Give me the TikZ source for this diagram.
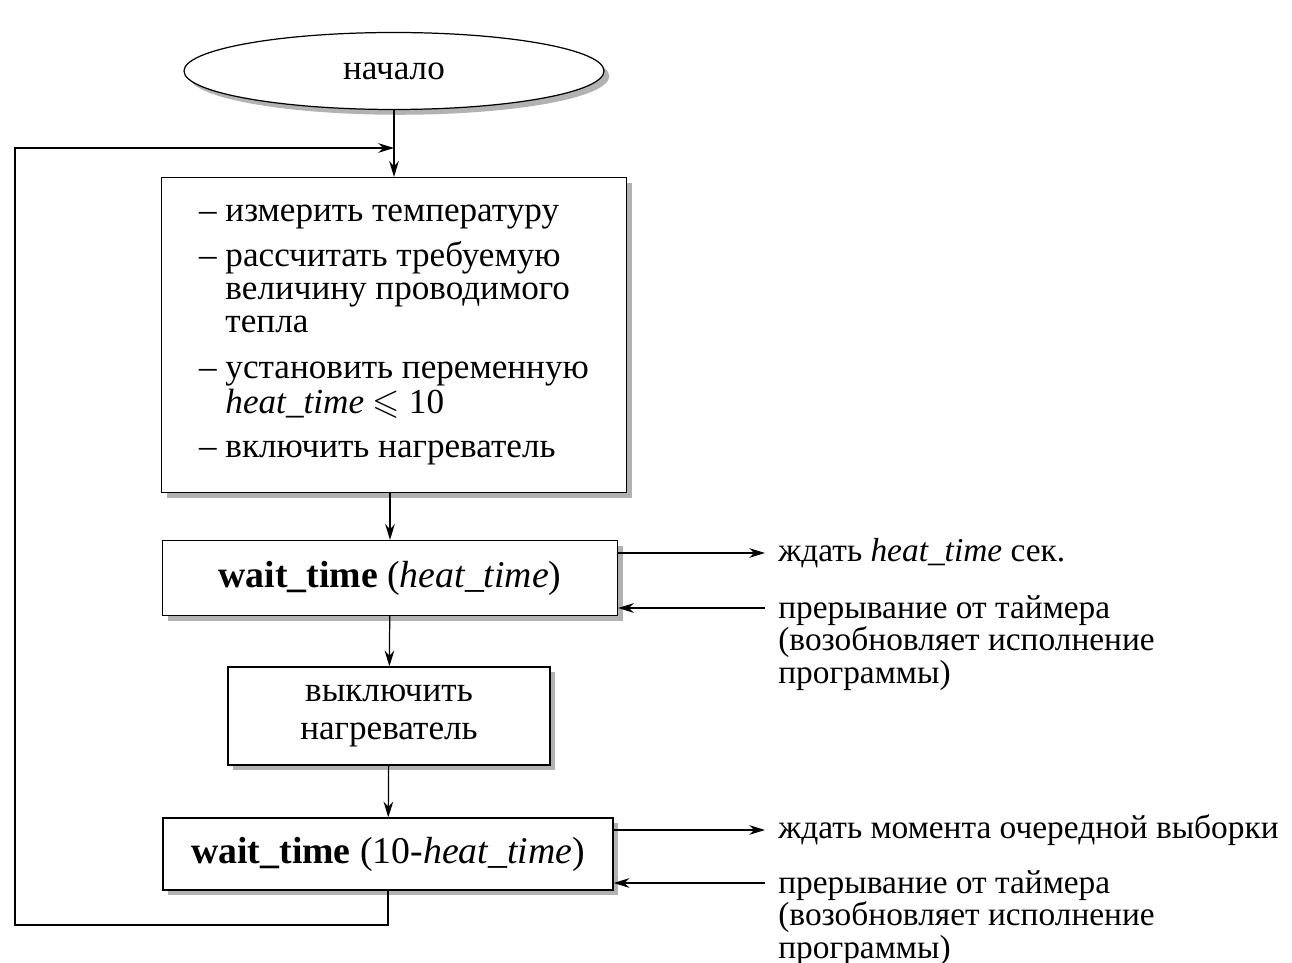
\documentclass[tikz,border=0pt]{standalone}
\usepackage{amssymb}
\usepackage{fontspec}
\setmainfont{Liberation Serif}
\usetikzlibrary{arrows.meta,shapes.geometric,shadows}

\begin{document}
\begin{tikzpicture}[x=0.2mm, y=-0.2mm,
  every node/.style={font=\fontsize{20}{19}\selectfont},
  block/.style={draw, line width=0.7pt, fill=white, align=center,
    drop shadow={shadow xshift=3pt, shadow yshift=-3pt, fill=black!30, opacity=1}},
  flow/.style={line width=0.7pt, -{Stealth[length=9pt,width=5.5pt]}},
  note/.style={anchor=west, inner sep=0pt, align=left, font=\fontsize{19}{16.5}\selectfont}
]
\useasboundingbox (0,0) rectangle (1292,963);

% start
\node[block, ellipse, minimum width=84mm, minimum height=15.4mm] (start) at (394,71) {начало};

% computation
\node[block, minimum width=93mm, minimum height=63mm, align=left] (work) at (394,335) {%
– измерить температуру\\[6.5pt]
– рассчитать требуемую\\
\phantom{– }величину проводимого\\
\phantom{– }тепла\\[7pt]
– установить переменную\\[1pt]
\phantom{– }\textit{heat\_time} \smash{$\leqslant$} 10\\[6pt]
– включить нагреватель};

% first wait
\node[block, minimum width=91mm, minimum height=15mm, font=\fontsize{21.5}{20}\selectfont] (wait1) at (390,578) {\textbf{wait\_time} (\textit{heat\_time})};

% heater off
\node[block, minimum width=64.4mm, minimum height=19.6mm, font=\fontsize{20}{22}\selectfont] (off) at (389,716) {выключить\\нагреватель};

% second wait
\node[block, minimum width=90mm, minimum height=14.4mm, font=\fontsize{21.5}{20}\selectfont] (wait2) at (388,854) {\textbf{wait\_time} (10-\textit{heat\_time})};

% notes on the right
\node[note] (sleep1) at (778,553) {ждать \textit{heat\_time} сек.};
\node[note, anchor=north west] (wake1) at (778,595) {прерывание от таймера\\(возобновляет исполнение\\программы)};
\node[note] (sleep2) at (778,830) {ждать момента очередной выборки};
\node[note, anchor=north west] (wake2) at (778,870) {прерывание от таймера\\(возобновляет исполнение\\программы)};

\coordinate (out1) at (765,553);
\coordinate (in1) at (765,608);
\coordinate (out2) at (765,830);
\coordinate (in2) at (765,883);
\coordinate (ret) at (15,925);
\coordinate (join) at (394,148);

% main flow
\draw[flow] (start) -- (work);
\draw[flow] (work.south -| wait1.north) -- (wait1);
\draw[flow] (wait1) -- (off);
\draw[flow] (off) -- (wait2);

% loop back
\draw[flow] (wait2.south) |- (ret) |- (join);

% timer
\draw[flow] (wait1.east |- out1) -- (out1);
\draw[flow] (in1) -- (wait1.east |- in1);
\draw[flow] (wait2.east |- out2) -- (out2);
\draw[flow] (in2) -- (wait2.east |- in2);

\end{tikzpicture}
\end{document}
